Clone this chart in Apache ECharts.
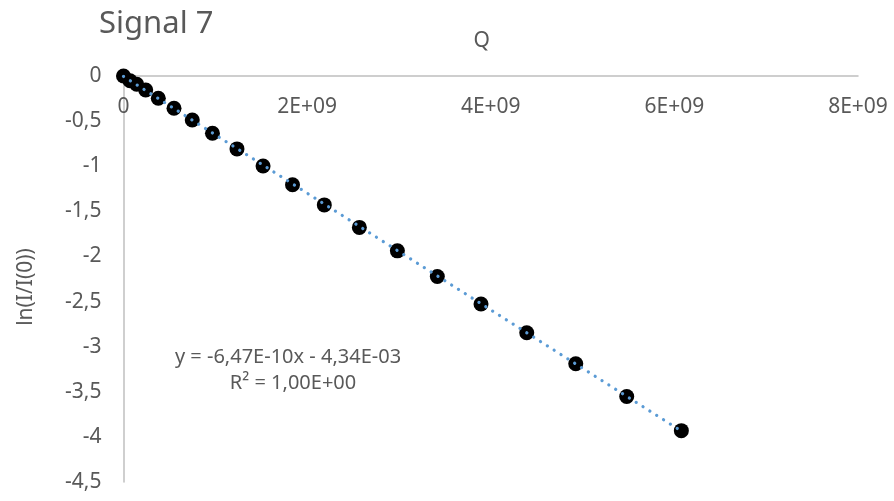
<!DOCTYPE html>
<html>
<head>
<meta charset="utf-8">
<title>Signal 7</title>
<script src="https://cdn.jsdelivr.net/npm/echarts@6/dist/echarts.min.js"></script>
<style>
  html, body { margin: 0; padding: 0; background: #ffffff; }
  #chart { width: 894px; height: 501px; }
</style>
</head>
<body>
<div id="chart"></div>
<script>
// Charge passed (Q) and the log of the normalised signal, ln(I/I(0))
const qValues = [
  0, 7.1e7, 1.44e8, 2.42e8, 3.79e8, 5.50e8, 7.49e8, 9.69e8, 1.236e9, 1.520e9,
  1.841e9, 2.187e9, 2.569e9, 2.983e9, 3.418e9, 3.894e9, 4.392e9, 4.926e9, 5.481e9, 6.076e9
];
const lnRatio = [
  0, -0.052, -0.092, -0.155, -0.247, -0.358, -0.487, -0.635, -0.808, -0.997,
  -1.205, -1.429, -1.678, -1.938, -2.223, -2.527, -2.846, -3.189, -3.552, -3.931
];

// Linear fit reported for this signal
const trendSlope = -6.47e-10;
const trendIntercept = -4.34e-3;
const equationLines = ['y = -6,47E-10x - 4,34E-03', 'R² = 1,00E+00'];

// Axis ranges and ticks
const xTicks = { min: 0, max: 8e9, interval: 2e9 };
const yTicks = { min: -4.5, max: 0, interval: 0.5 };

const FONT = 'Noto Sans';
const TEXT = '#595959';
const AXIS = '#BFBFBF';

// Excel-style scientific label: 2000000000 -> "2E+09"
function sciLabel(v) {
  if (v === 0) return '0';
  const e = Math.floor(Math.log10(Math.abs(v)));
  const m = Math.round(v / Math.pow(10, e) * 100) / 100;
  return String(m) + 'E+' + String(e).padStart(2, '0');
}
// Decimal comma: -0.5 -> "-0,5"
const commaLabel = v => String(v).replace('.', ',');

const trendData = [
  [Math.min(...qValues), trendSlope * Math.min(...qValues) + trendIntercept],
  [Math.max(...qValues), trendSlope * Math.max(...qValues) + trendIntercept]
];

const chart = echarts.init(document.getElementById('chart'), null, { renderer: 'canvas' });
chart.setOption({
  animation: false,
  backgroundColor: '#ffffff',
  textStyle: { fontFamily: FONT, color: TEXT },
  title: {
    text: 'Signal 7',
    left: 94,
    top: 4,
    textStyle: { fontFamily: FONT, fontSize: 31, fontWeight: 'normal', color: TEXT }
  },
  grid: { left: 123.5, right: 36, top: 76, bottom: 19, containLabel: false },
  xAxis: {
    type: 'value',
    position: 'top',
    min: xTicks.min,
    max: xTicks.max,
    interval: xTicks.interval,
    name: 'Q',
    nameLocation: 'middle',
    nameGap: 24,
    nameTextStyle: { fontFamily: FONT, fontSize: 21, color: TEXT, padding: [0, 18, 0, 0] },
    axisLine: { show: true, onZero: false, lineStyle: { color: AXIS, width: 1.5 } },
    axisTick: { show: false },
    splitLine: { show: false },
    axisLabel: {
      inside: true,
      margin: 21,
      fontFamily: FONT,
      fontSize: 21,
      color: TEXT,
      formatter: sciLabel
    }
  },
  yAxis: {
    type: 'value',
    min: yTicks.min,
    max: yTicks.max,
    interval: yTicks.interval,
    name: 'ln(I/I(0))',
    nameLocation: 'middle',
    nameGap: 87,
    nameRotate: 90,
    nameTextStyle: { fontFamily: FONT, fontSize: 21, color: TEXT, padding: [0, 16, 0, 0] },
    axisLine: { show: true, onZero: false, lineStyle: { color: AXIS, width: 1.5 } },
    axisTick: { show: false },
    splitLine: { show: false },
    axisLabel: {
      margin: 22,
      fontFamily: FONT,
      fontSize: 21,
      color: TEXT,
      formatter: commaLabel
    }
  },
  graphic: [
    {
      type: 'text',
      x: 288, y: 357,
      style: { text: equationLines[0], fontFamily: FONT, fontSize: 20, fill: TEXT, textAlign: 'center', textVerticalAlign: 'middle' }
    },
    {
      type: 'text',
      x: 293, y: 383,
      style: { text: equationLines[1], fontFamily: FONT, fontSize: 20, fill: TEXT, textAlign: 'center', textVerticalAlign: 'middle' }
    }
  ],
  series: [
    {
      name: 'ln(I/I(0))',
      type: 'scatter',
      data: qValues.map((q, i) => [q, lnRatio[i]]),
      symbol: 'circle',
      symbolSize: 15,
      itemStyle: { color: '#000000', opacity: 1 },
      z: 2
    },
    {
      name: 'Linear fit',
      type: 'line',
      data: trendData,
      showSymbol: false,
      symbol: 'none',
      lineStyle: { color: '#5B9BD5', width: 3.2, type: [0.1, 8], cap: 'round' },
      z: 3,
      silent: true
    }
  ]
});
</script>
</body>
</html>
